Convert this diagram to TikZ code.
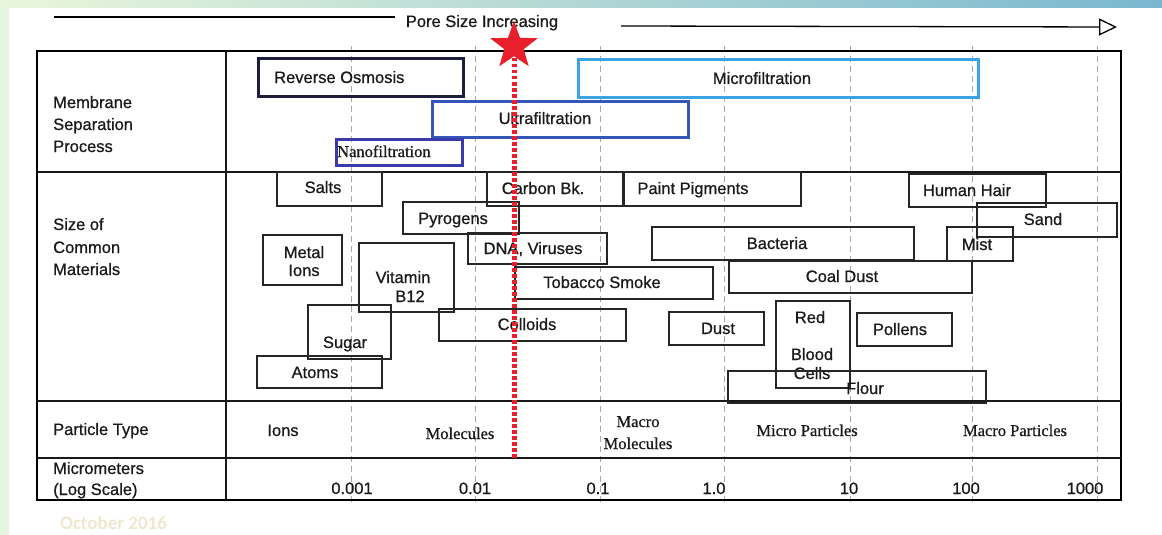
\documentclass[tikz,border=0pt]{standalone}
\usepackage{fontspec}
\setmainfont[FakeBold=0.7]{Liberation Sans}
\newfontfamily\tnr[FakeBold=0.7]{Liberation Serif}
\newfontfamily\calib{Carlito}
\usetikzlibrary{arrows.meta,shapes.geometric,fit}
\definecolor{gridgray}{HTML}{A8A8A8}
\definecolor{redln}{HTML}{E8202C}
\definecolor{rocol}{HTML}{1E1E3C}
\definecolor{ufcol}{HTML}{3556B8}
\definecolor{nfcol}{HTML}{3A3AA8}
\definecolor{mfcol}{HTML}{3CA3E3}
\definecolor{octcol}{HTML}{EFE7CE}
\definecolor{bandL}{HTML}{E9F6DB}
\definecolor{bandM}{HTML}{B6E0D6}
\definecolor{bandR}{HTML}{79B7CF}
\definecolor{sidecol}{HTML}{E4F4DE}
\definecolor{inkcol}{HTML}{1A1A1A}
\begin{document}
\begin{tikzpicture}[x=1pt,y=-1pt,
  lbl/.style={inner sep=0pt, text height=12pt, text depth=0pt, text=inkcol, font=\fontsize{16.5}{19}\selectfont},
  lblw/.style={lbl, anchor=west},
  seriflbl/.style={lbl, font=\fontsize{16.5}{19}\selectfont\tnr},
  matbox/.style={draw=black!85, line width=1.3pt, inner sep=0pt},
  membox/.style={line width=3pt, inner sep=0pt},
  gridline/.style={draw=gridgray, line width=0.9pt, dash pattern=on 6pt off 4pt},
  tableline/.style={line width=1.6pt, draw=black!90},
  redtrace/.style={draw=redln, line width=5pt, dash pattern=on 3.5pt off 2.5pt}
]
\useasboundingbox (0,0) rectangle (1162,535);
% background
\fill[white] (0,0) rectangle (1162,535);
\shade[left color=bandL, middle color=bandM, right color=bandR] (0,0) rectangle (1162,8);
\fill[sidecol] (0,8) rectangle (9,535);

% header arrow
\coordinate (arrLs) at (54,17);
\coordinate (arrLe) at (395,17);
\draw[line width=1.3pt] (arrLs) -- (arrLe);
\node[lbl] (pore) at (482,21) {Pore Size Increasing};
\coordinate (arrRs) at (621,26);
\coordinate (arrRe) at (1117,27);
\draw[line width=1.3pt, -{Triangle[open,length=18pt,width=17pt]}] (arrRs) -- (arrRe);

% grid lines
\foreach \i/\gx in {1/351,2/475,3/600,4/724,5/850,6/972,7/1097}{
  \coordinate (gt\i) at (\gx,46);
  \coordinate (gb\i) at (\gx,502);
  \draw[gridline] (gt\i) -- (gb\i);
}

% table
\draw[line width=2.6pt] (37,51) rectangle (1121,500);
\draw[tableline] (37,172) -- (1121,172);
\draw[tableline] (37,401) -- (1121,401);
\draw[tableline] (37,458) -- (1121,458);
\draw[tableline] (226,51) -- (226,500);

% left labels
\node[lblw] (l1) at (53,102) {Membrane};
\node[lblw] (l2) at (53,124) {Separation};
\node[lblw] (l3) at (53,146) {Process};
\node[lblw] (l4) at (53,224) {Size of};
\node[lblw] (l5) at (53,247) {Common};
\node[lblw] (l6) at (53,269) {Materials};
\node[lblw] (l7) at (53,429) {Particle Type};
\node[lblw] (l8) at (53,468) {Micrometers};
\node[lblw] (l9) at (53,489) {(Log Scale)};

% membrane processes
\node[membox, draw=rocol, fit={(258,59)(463,96)}] (ro) {};
\node[lblw] (roT) at (274,77) {Reverse Osmosis};
\node[membox, draw=mfcol, fit={(578,60)(978,97)}] (mf) {};
\node[lbl] (mfT) at (762,78) {Microfiltration};
\node[membox, draw=ufcol, fit={(432,101)(688,137)}] (uf) {};
\node[lbl] (ufT) at (545,118) {Ultrafiltration};
\node[membox, draw=nfcol, fit={(336,139)(462,165)}] (nf) {};
\node[seriflbl, anchor=west] (nfT) at (337,151) {Nanofiltration};

% common materials
\node[matbox, fit={(277,172)(382,206)}] (salts) {};
\node[lbl] (saltsT) at (323,187) {Salts};
\node[matbox, fit={(487,172)(623,206)}] (carbon) {};
\node[lbl] (carbonT) at (543,188) {Carbon Bk.};
\node[matbox, fit={(624,172)(801,206)}] (paint) {};
\node[lbl] (paintT) at (693,188) {Paint Pigments};
\node[matbox, fit={(909,174)(1046,207)}] (hair) {};
\node[lbl] (hairT) at (967,190) {Human Hair};
\node[matbox, fit={(977,203)(1117,237)}] (sand) {};
\node[lbl] (sandT) at (1043,219) {Sand};
\node[matbox, fit={(403,202)(519,234)}] (pyro) {};
\node[lbl] (pyroT) at (453,218) {Pyrogens};
\node[matbox, fit={(263,235)(342,285)}] (metal) {};
\node[lbl] (metalT1) at (304,252) {Metal};
\node[lbl] (metalT2) at (304,270) {Ions};
\node[matbox, fit={(468,233)(607,264)}] (dna) {};
\node[lbl] (dnaT) at (533,248) {DNA, Viruses};
\node[matbox, fit={(652,227)(914,260)}] (bact) {};
\node[lbl] (bactT) at (777,243) {Bacteria};
\node[matbox, fit={(947,227)(1013,261)}] (mist) {};
\node[lbl] (mistT) at (977,244) {Mist};
\node[matbox, fit={(359,243)(454,312)}] (vit) {};
\node[lbl] (vitT1) at (403,277) {Vitamin};
\node[lbl] (vitT2) at (410,296) {B12};
\node[matbox, fit={(515,267)(713,299)}] (tob) {};
\node[lbl] (tobT) at (602,282) {Tobacco Smoke};
\node[matbox, fit={(729,261)(972,293)}] (coal) {};
\node[lbl] (coalT) at (842,276) {Coal Dust};
\node[matbox, fit={(439,309)(626,341)}] (coll) {};
\node[lbl] (collT) at (527,324) {Colloids};
\node[matbox, fit={(308,305)(391,359)}] (sugar) {};
\node[lbl] (sugarT) at (345,342) {Sugar};
\node[matbox, fit={(669,312)(764,345)}] (dust) {};
\node[lbl] (dustT) at (718,328) {Dust};
\node[matbox, fit={(776,301)(850,388)}] (rbc) {};
\node[lbl] (rbcT1) at (810,317) {Red};
\node[lbl] (rbcT2) at (812,354) {Blood};
\node[lbl] (rbcT3) at (812,373) {Cells};
\node[matbox, fit={(857,313)(952,346)}] (pollen) {};
\node[lbl] (pollenT) at (900,329) {Pollens};
\node[matbox, fit={(728,371)(986,403)}] (flour) {};
\node[lbl] (flourT) at (865,388) {Flour};
\node[matbox, fit={(257,356)(382,388)}] (atoms) {};
\node[lbl] (atomsT) at (315,372) {Atoms};

% particle types
\node[lbl] (pIons) at (283,430) {Ions};
\node[seriflbl] (pMol) at (460,433) {Molecules};
\node[seriflbl] (pMac1) at (638,421) {Macro};
\node[seriflbl] (pMac2) at (638,443) {Molecules};
\node[seriflbl] (pMicP) at (807,430) {Micro Particles};
\node[seriflbl] (pMacP) at (1015,430) {Macro Particles};

% scale
\node[lbl] (s1) at (352,488) {0.001};
\node[lbl] (s2) at (475,488) {0.01};
\node[lbl] (s3) at (598,488) {0.1};
\node[lbl] (s4) at (714,488) {1.0};
\node[lbl] (s5) at (849,488) {10};
\node[lbl] (s6) at (966,488) {100};
\node[lbl] (s7) at (1085,488) {1000};

% red marker
\coordinate (redtop) at (514,46);
\coordinate (redbot) at (514,458);
\draw[redtrace] (redtop) -- (redbot);
\node[star, star points=5, star point ratio=2.45, fill=redln, draw=none, inner sep=0pt, minimum size=50pt] (star) at (514,46) {};

% footer
\node[inner sep=0pt, anchor=west, text=octcol, font=\calib\bfseries\fontsize{19}{22}\selectfont] (oct) at (60,523) {October 2016};
\end{tikzpicture}
\end{document}
